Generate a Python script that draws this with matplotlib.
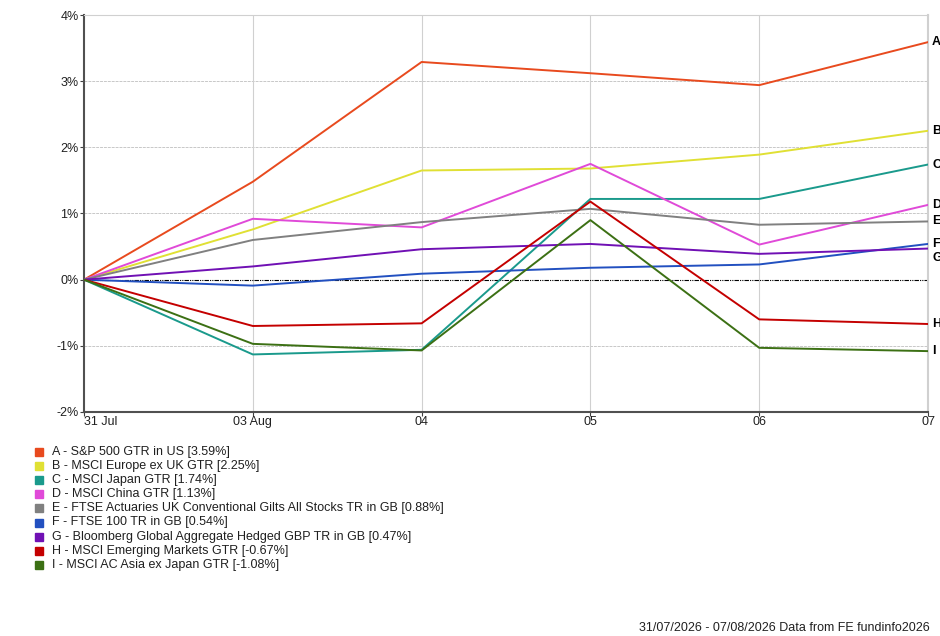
import matplotlib
matplotlib.use("Agg")
import matplotlib.pyplot as plt
from matplotlib.patches import Rectangle

tanggal = ["31 Jul", "03 Aug", "04", "05", "06", "07"]
kode = ["A", "B", "C", "D", "E", "F", "G", "H", "I"]
nama = [
    "S&P 500 GTR in US",
    "MSCI Europe ex UK GTR",
    "MSCI Japan GTR",
    "MSCI China GTR",
    "FTSE Actuaries UK Conventional Gilts All Stocks TR in GB",
    "FTSE 100 TR in GB",
    "Bloomberg Global Aggregate Hedged GBP TR in GB",
    "MSCI Emerging Markets GTR",
    "MSCI AC Asia ex Japan GTR",
]
akhir = [3.59, 2.25, 1.74, 1.13, 0.88, 0.54, 0.47, -0.67, -1.08]

seri_a = [0, 1.48, 3.29, 3.12, 2.94, 3.59]
seri_b = [0, 0.76, 1.65, 1.68, 1.89, 2.25]
seri_c = [0, -1.13, -1.06, 1.22, 1.22, 1.74]
seri_d = [0, 0.92, 0.79, 1.75, 0.53, 1.13]
seri_e = [0, 0.60, 0.87, 1.07, 0.83, 0.88]
seri_f = [0, -0.09, 0.09, 0.18, 0.23, 0.54]
seri_g = [0, 0.20, 0.46, 0.54, 0.39, 0.47]
seri_h = [0, -0.70, -0.66, 1.18, -0.60, -0.67]
seri_i = [0, -0.97, -1.07, 0.90, -1.03, -1.08]
semua = [seri_a, seri_b, seri_c, seri_d, seri_e, seri_f, seri_g, seri_h, seri_i]

warna = ["#e84a1e", "#e0e034", "#1a9a8c", "#e04ad8", "#808080",
         "#2250c0", "#7010b4", "#c40000", "#3c7014"]
# geser label huruf (pt) supaya F dan G tidak tumpuk
geser = [0, 0, 0, 0, 0, 0, -7, 0, 0]

plt.rcParams.update({"font.family": ["Liberation Sans", "DejaVu Sans"], "font.size": 9})
fig = plt.figure(figsize=(9.4, 6.36), dpi=100)
ax = fig.add_axes([84 / 940, 1 - 412 / 636, (928 - 84) / 940, (412 - 15) / 636])

x = list(range(len(tanggal)))
for i, s in enumerate(semua):
    ax.plot(x, s, color=warna[i], lw=1.4, zorder=3)
    ax.annotate(kode[i], (x[-1], s[-1]), xytext=(3, geser[i]), textcoords="offset points",
                ha="left", va="center", fontsize=9, fontweight="bold", annotation_clip=False)

ax.axhline(0, color="black", lw=0.8, ls=(0, (4, 1, 1, 1, 1, 1)), zorder=2)
ax.set_xlim(0, len(tanggal) - 1)
ax.set_ylim(-2, 4)
ax.set_yticks(range(-2, 5))
ax.set_yticklabels([f"{v}%" for v in range(-2, 5)])
ax.set_xticks(x)
ax.set_xticklabels(tanggal)
ax.get_xticklabels()[0].set_ha("left")

for v in range(-1, 4):
    if v != 0:
        ax.axhline(v, color="#c8c8c8", lw=0.7, ls=(0, (3, 1)), zorder=1)
for xi in x[1:-1]:
    ax.axvline(xi, color="#d0d0d0", lw=0.8, zorder=1)

ax.tick_params(axis="both", length=3, color="#404040", labelcolor="#202020", pad=1)
ax.tick_params(axis="x", pad=0)
ax.spines["left"].set_color("#505050")
ax.spines["left"].set_linewidth(1.5)
ax.spines["bottom"].set_color("#505050")
ax.spines["bottom"].set_linewidth(1.5)
ax.spines["top"].set_color("#d0d0d0")
ax.spines["right"].set_color("#d0d0d0")
ax.spines["right"].set_linewidth(1.5)

# legenda manual di bawah grafik
for i in range(len(kode)):
    yy = 1 - (452 + i * 14.1) / 636
    fig.patches.append(Rectangle((35 / 940, yy - 4 / 636), 8 / 940, 8 / 636,
                                 transform=fig.transFigure, color=warna[i]))
    fig.text(52 / 940, yy, f"{kode[i]} - {nama[i]} [{akhir[i]:.2f}%]", va="center",
             fontsize=9, color="#202020")

fig.text(930 / 940, 1 - 628 / 636, "31/07/2026 - 07/08/2026 Data from FE fundinfo2026",
         ha="right", va="center", fontsize=9, color="#202020")

fig.savefig("out.png", dpi=100)
